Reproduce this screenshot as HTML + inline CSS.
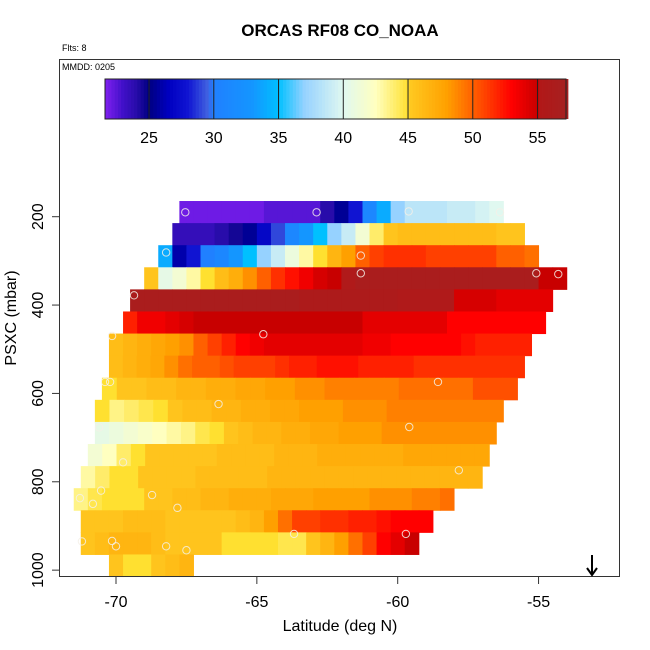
<!DOCTYPE html>
<html><head><meta charset="utf-8"><style>
body{margin:0;background:#fff;}
svg{display:block;font-family:"Liberation Sans",sans-serif;}
</style></head><body>
<svg id="chart" width="650" height="650" viewBox="0 0 650 650"></svg>
<script>
const colorTicks=[25,30,35,40,45,50,55];
const latTicks=[-70,-65,-60,-55];
const presTicks=[200,400,600,800,1000];
const rowPressure=[189.5,239.5,289.5,339.5,389.5,439.5,489.5,539.5,589.5,639.5,689.5,739.5,789.5,839.5,889.5,939.5,989.5];
const rowStart=[-67.75,-68,-68.5,-69,-69.5,-69.75,-70.25,-70.25,-70.5,-70.75,-70.75,-71,-71.25,-71.5,-71.25,-71.25,-70.25];
const rowEnd=[-56.25,-55.5,-55,-54,-54.5,-54.75,-55.25,-55.5,-55.75,-56.25,-56.5,-56.75,-57,-58,-58.75,-59.25,-67.25];
const r200=[22,22,22,22,22,22,22.5,22.5,22.5,22.5,24,25.5,28,31,34,37,38.5,38.5,38.5,39,39,39.5,40];
const r250=[23.5,23.5,23.5,24,24.5,25.5,27,29,31,33,35,37,39,41.5,44,45.5,46,46,46,46,46,46,46,45.5,45.5];
const r300=[34,26,28,30,31,33,35,37,39,41,43,45,46.5,48,50,51,51.5,51.5,51.5,51,51,51,51,51,50,50,49.5];
const r350=[45.5,40.5,41.5,43,45,46,47,48.5,50,51.5,52.5,53.5,54.5,55,55.5,56.5,56.5,56.5,56.5,56.5,56.5,56.5,56.5,56.5,56.5,56.5,56.5,56.5,55,55];
const r400=[56.5,56.5,56.5,56.5,56.5,56.5,56.5,56.5,56.5,56.5,56.5,56.5,56,56,56,56,56,56,56,55.5,55.5,55.5,55.5,54.5,54.5,54.5,54,54,54,54];
const r450=[52,53.5,53.5,54,54.5,55,55,55,55,55,55,55,55,55,55,55,55,54,54,54,54,54,54,53,53,53,53,53,53,53];
const r500=[46,46.5,47,47.5,48,48.5,50,51,52,53,53.5,54,54,54,54,54,54,54,53.5,53.5,53,53,53,53,53,52.5,52,52,52,52];
const r550=[46,46.5,47,47.5,48.5,49.5,50,50,50.5,51,51,51,51.5,52,52,52.5,52.5,52.5,52,52,52,52,51.5,51.5,51.5,51.5,51.5,51.5,51.5,51.5];
const r600=[45,45.5,45.5,46,46,46.5,46.5,47,47,47.5,47.5,48,48,48.5,48.5,49,49,49,49,49,49.5,49.5,49.5,49.5,49.5,50.5,50.5,50.5];
const r650=[45,43.5,44,44.5,45,45.5,46,46,46.5,46.5,47,47,47.5,47.5,48,48,48,48.5,48.5,48.5,49,49,49,49,49,49,49,49];
const r700=[40.5,41,41.5,42,42.5,43,43.5,44.5,45,45.5,46,46.5,46.5,47,47,47.5,47.5,48,48,48,48.5,48.5,48.5,48.5,48.5,48.5,48.5,48.5];
const r750=[41.5,42.5,44,45,45.5,45.5,45.5,45.5,45.5,46,46,46,46,46.5,46.5,46.5,47,47,47,47,47,47,47.5,47.5,47.5,47.5,47.5,47.5];
const r800=[43,44,45,45,45.5,45.5,45.5,45.5,46,46,46,46,46,46.5,46.5,46.5,46.5,46.5,46.5,46.5,46.5,46.5,46.5,46.5,46.5,46.5,46.5,46.5];
const r850=[43.5,44.5,45,45,45,45.5,45.5,46,46,46.5,46.5,47,47,47,47.5,47.5,47.5,48,48,48,48,48.5,48.5,48.5,49,49,49.5];
const r900=[45.5,45.5,45.5,46,46,46,45.5,45.5,45.5,45.5,45.5,46,46.5,48,49.5,51,51,51.5,51.5,52,52,52.5,53,53,53];
const r950=[45.5,46,46.5,46.5,46.5,46,45.5,45.5,45.5,45.5,45,45,45,45,44.5,44.5,45.5,46.5,48,49.5,51,53,54,55];
const r1000=[45.5,45,45,45.5,46,46.5];
const rowValues=[r200,r250,r300,r350,r400,r450,r500,r550,r600,r650,r700,r750,r800,r850,r900,r950,r1000];
const obsLat=[-67.54,-62.88,-59.61,-56.37,-68.22,-61.31,-61.31,-55.08,-54.3,-69.36,-64.77,-70.14,-70.39,-70.21,-58.57,-66.36,-70.6,-59.59,-69.75,-57.83,-70.53,-68.72,-71.28,-70.82,-67.82,-70.14,-63.68,-59.71,-71.21,-70.0,-68.22,-67.5];
const obsPres=[190,190,188,190,281,288,328,328,330,378,466,470,574,574,574,624,677,676,756,774,820,830,837,850,859,934,918,918,935,946,946,955];

const svg=document.getElementById('chart');
const NS='http://www.w3.org/2000/svg';
function mk(tag,attrs,parent){const e=document.createElementNS(NS,tag);for(const k in attrs)e.setAttribute(k,attrs[k]);(parent||svg).appendChild(e);return e;}
const xS=lat=>116+(lat+70)*28.17;
const yS=p=>216.7+(p-200)*0.4418;
const cS=v=>105+(v-21.6)*12.95;
const stops=[[21.6,[128,32,240]],[23,[64,16,200]],[24,[40,12,170]],[25,[0,0,128]],[26.5,[0,0,192]],[28,[16,20,210]],[29.5,[64,96,224]],[30,[32,128,255]],[33,[20,150,255]],[35,[0,192,255]],[37,[150,210,255]],[40,[224,248,240]],[42.5,[255,255,192]],[45,[255,224,48]],[45.2,[255,200,32]],[48,[255,160,0]],[50,[255,96,0]],[52,[255,32,0]],[53,[255,0,0]],[55,[200,0,0]],[55.1,[178,24,24]],[57.2,[166,32,32]]];
function col(v){if(v<=stops[0][0])return 'rgb('+stops[0][1]+')';for(let i=1;i<stops.length;i++){if(v<=stops[i][0]){const a=stops[i-1],b=stops[i],t=(v-a[0])/(b[0]-a[0]);return 'rgb('+a[1].map((c,j)=>Math.round(c+(b[1][j]-c)*t)).join(',')+')';}}return 'rgb('+stops[stops.length-1][1]+')';}

let t=mk('text',{x:340,y:36,'text-anchor':'middle','font-size':17,'font-weight':'bold',fill:'#000'});t.textContent='ORCAS RF08 CO_NOAA';

t=mk('text',{x:62,y:51,'font-size':9,fill:'#000'});t.textContent='Flts: 8';

t=mk('text',{x:62,y:70,'font-size':9,fill:'#000'});t.textContent='MMDD: 0205';


const cb=mk('g',{});
for(let v=21.6;v<57.2;v+=0.25){mk('rect',{x:cS(v),y:79,width:cS(v+0.25)-cS(v)+0.4,height:40,fill:col(v+0.125)},cb);}
mk('rect',{x:105,y:79,width:461,height:40,fill:'none',stroke:'#222','stroke-width':1},cb);
colorTicks.forEach(v=>{mk('line',{x1:cS(v),x2:cS(v),y1:79,y2:119,stroke:'#222','stroke-width':1},cb);
const l=mk('text',{x:cS(v),y:143,'text-anchor':'middle','font-size':16,fill:'#000'},cb);l.textContent=v;
});

const cells=mk('g',{});
rowValues.forEach((vals,i)=>{const n=vals.length,w=(rowEnd[i]-rowStart[i])/n;const y0=yS(rowPressure[i]-25),y1=yS(rowPressure[i]+25);
vals.forEach((v,j)=>{const x0=xS(rowStart[i]+j*w),x1=xS(rowStart[i]+(j+1)*w);
const r=mk('rect',{x:x0,y:y0,width:x1-x0+0.5,height:y1-y0+0.5,fill:col(v)},cells);

});});

obsLat.forEach((la,i)=>{const c=mk('circle',{cx:xS(la),cy:yS(obsPres[i]),r:3.7,fill:'none',stroke:'#f4f0e8','stroke-width':1,opacity:0.85});

});

const fr=mk('rect',{x:59.5,y:59.5,width:560,height:517,fill:'none',stroke:'#333','stroke-width':1});

latTicks.forEach(v=>{mk('line',{x1:xS(v),x2:xS(v),y1:577,y2:584,stroke:'#333'});
const l=mk('text',{x:xS(v),y:607,'text-anchor':'middle','font-size':16,fill:'#000'});l.textContent=v;
});
presTicks.forEach(v=>{mk('line',{x1:52,x2:59.5,y1:yS(v),y2:yS(v),stroke:'#333'});
const l=mk('text',{x:0,y:0,'text-anchor':'middle','font-size':16,fill:'#000',transform:'translate(43,'+yS(v)+') rotate(-90)'});l.textContent=v;
});
t=mk('text',{x:340,y:631,'text-anchor':'middle','font-size':16,fill:'#000'});t.textContent='Latitude (deg N)';

t=mk('text',{x:0,y:0,'text-anchor':'middle','font-size':16,fill:'#000',transform:'translate(16,318) rotate(-90)'});t.textContent='PSXC (mbar)';

const ar=mk('g',{stroke:'#000','stroke-width':2,fill:'none'});
mk('line',{x1:592,y1:555,x2:592,y2:575},ar);mk('polyline',{points:'587,568 592,575 597,568'},ar);
</script>
</body></html>
